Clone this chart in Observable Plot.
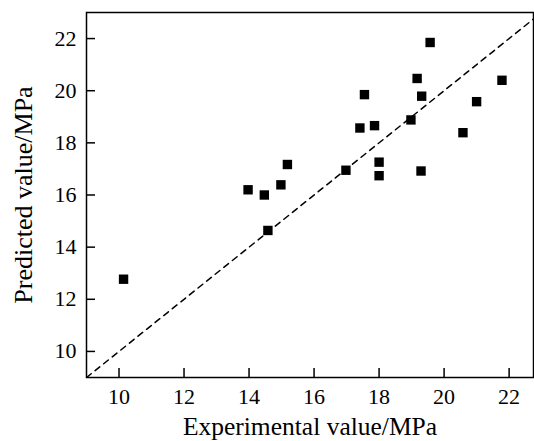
<!DOCTYPE html>
<html>
<head>
<meta charset="utf-8">
<script src="https://cdn.jsdelivr.net/npm/d3@7"></script>
<script src="https://cdn.jsdelivr.net/npm/@observablehq/plot@0.6"></script>
<style>
  html, body { margin: 0; padding: 0; background: #fff; }
</style>
</head>
<body>
<div id="chart"></div>
<script>
const experimental = [10.14, 13.97, 14.47, 14.58, 14.98, 15.18, 16.98, 17.41, 17.55, 17.86, 18.0, 18.0, 18.98, 19.17, 19.31, 19.29, 19.57, 20.58, 21.0, 21.78];
const predicted    = [12.77, 16.2, 16.0, 14.64, 16.39, 17.17, 16.95, 18.57, 19.85, 18.66, 17.26, 16.74, 18.88, 20.47, 19.79, 16.92, 21.85, 18.39, 19.58, 20.4];
const xTicks = [10, 12, 14, 16, 18, 20, 22];
const yTicks = [10, 12, 14, 16, 18, 20, 22];
const diagonal = [9, 23];
const xLabel = "Experimental value/MPa";
const yLabel = "Predicted value/MPa";

const points = experimental.map((e, i) => ({experimental: e, predicted: predicted[i]}));

const chart = Plot.plot({
  width: 534,
  height: 441,
  marginLeft: 86,
  marginTop: 12,
  marginBottom: 64,
  marginRight: 1,
  style: {fontFamily: "'Liberation Serif', 'Times New Roman', serif", fontSize: "22px", color: "#000", background: "#fff"},
  x: {domain: [9, 22.75], ticks: xTicks},
  y: {domain: [9, 23], ticks: yTicks},
  marks: [
    Plot.line(diagonal, {x: d => d, y: d => d, stroke: "#000", strokeWidth: 1.5, strokeDasharray: "6,5", clip: true}),
    Plot.dot(points, {x: "experimental", y: "predicted", symbol: "square", r: 5.3, fill: "#000", stroke: "none"}),
    Plot.axisX(xTicks, {anchor: "bottom", tickSize: -9, text: null, strokeWidth: 1.5, label: null}),
    Plot.axisX(xTicks, {anchor: "bottom", tickSize: 0, tickPadding: 11, fontSize: 22, label: null}),
    Plot.axisY(yTicks, {anchor: "left", tickSize: -9, text: null, strokeWidth: 1.5, label: null}),
    Plot.axisY(yTicks, {anchor: "left", tickSize: 0, tickPadding: 10, fontSize: 22, label: null}),
    Plot.frame({stroke: "#000", strokeWidth: 1.5}),
    Plot.text([xLabel], {text: d => d, frameAnchor: "bottom", textAnchor: "middle", lineAnchor: "middle", dy: 49.5, fontSize: 25.5}),
    Plot.text([yLabel], {text: d => d, frameAnchor: "left", textAnchor: "middle", lineAnchor: "middle", dx: -62.5, dy: 0, rotate: -90, fontSize: 26})
  ]
});
document.getElementById("chart").appendChild(chart);
</script>
</body>
</html>
